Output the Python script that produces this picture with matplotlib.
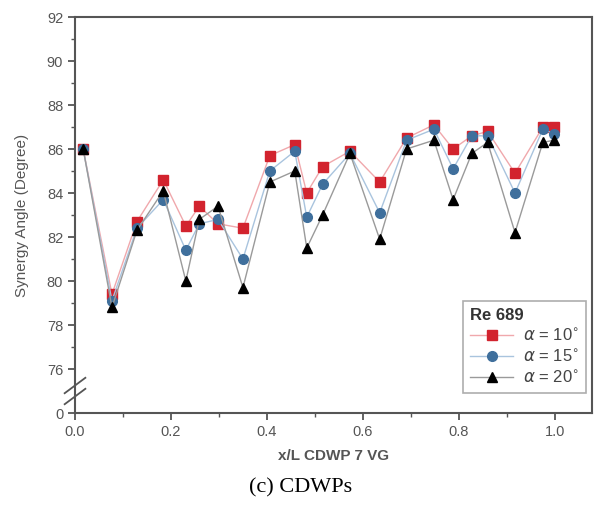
import matplotlib
matplotlib.use("Agg")
import matplotlib.pyplot as plt
import matplotlib.transforms as mtransforms
from matplotlib.ticker import MultipleLocator, FixedLocator

# positions along the plate
x_pos = [0.017, 0.077, 0.129, 0.184, 0.231, 0.259, 0.298, 0.350, 0.406, 0.458, 0.483,
         0.516, 0.573, 0.635, 0.691, 0.748, 0.788, 0.827, 0.860, 0.917, 0.975, 0.998]

# synergy angle for each inclination
angle_10 = [86.0, 79.4, 82.7, 84.6, 82.5, 83.4, 82.6, 82.4, 85.7, 86.2, 84.0,
            85.2, 85.9, 84.5, 86.5, 87.1, 86.0, 86.6, 86.8, 84.9, 87.0, 87.0]
angle_15 = [86.0, 79.1, 82.4, 83.7, 81.4, 82.6, 82.8, 81.0, 85.0, 85.9, 82.9,
            84.4, 85.8, 83.1, 86.4, 86.9, 85.1, 86.6, 86.6, 84.0, 86.9, 86.7]
angle_20 = [86.0, 78.8, 82.3, 84.1, 80.0, 82.8, 83.4, 79.7, 84.5, 85.0, 81.5,
            83.0, 85.8, 81.9, 86.0, 86.4, 83.7, 85.8, 86.3, 82.2, 86.3, 86.4]

y_ticks = [74, 76, 78, 80, 82, 84, 86, 88, 90, 92]
y_tick_labels = ["0", "76", "78", "80", "82", "84", "86", "88", "90", "92"]
x_ticks = [0.0, 0.2, 0.4, 0.6, 0.8, 1.0]

plt.rcParams['font.family'] = ['Liberation Sans', 'DejaVu Sans']

fig = plt.figure(figsize=(6.02, 5.08), dpi=100)
ax = fig.add_axes([0.1246, 0.187, 0.8584, 0.7795])

txt_col = '#555555'
spine_col = '#555555'

l10, = ax.plot(x_pos, angle_10, color='#f0a8ac', lw=1.0, marker='s', ms=6.5,
               mfc='#d2232e', mec='#d2232e', label=r'$\alpha$ = 10$^{\circ}$', zorder=2)
l15, = ax.plot(x_pos, angle_15, color='#a9c4de', lw=1.0, marker='o', ms=7,
               mfc='#3f6f9c', mec='#3f6f9c', label=r'$\alpha$ = 15$^{\circ}$', zorder=3)
l20, = ax.plot(x_pos, angle_20, color='#9a9a9a', lw=1.0, marker='^', ms=7.5,
               mfc='black', mec='black', label=r'$\alpha$ = 20$^{\circ}$', zorder=4)

ax.set_xlim(0.0, 1.077)
ax.set_ylim(74, 92)
ax.set_xticks(x_ticks)
ax.set_xticklabels([f"{v:.1f}" for v in x_ticks])
ax.xaxis.set_minor_locator(MultipleLocator(0.1))
ax.yaxis.set_major_locator(FixedLocator(y_ticks))
ax.set_yticklabels(y_tick_labels)
ax.yaxis.set_minor_locator(FixedLocator([77, 79, 81, 83, 85, 87, 89, 91]))

for s in ax.spines.values():
    s.set_color(spine_col)
    s.set_linewidth(1.5)
ax.tick_params(which='major', direction='out', length=5, width=1.3,
               colors=spine_col, labelcolor=txt_col, labelsize=10.5)
ax.tick_params(which='minor', direction='out', length=3, width=1.0, colors=spine_col)

ax.set_xlabel("x/L CDWP 7 VG", fontsize=11, color=txt_col, fontweight='bold', labelpad=7)
ax.set_ylabel("Synergy Angle (Degree)", fontsize=11, color=txt_col, labelpad=13)

# axis break marks on the y spine
trans = mtransforms.blended_transform_factory(ax.transAxes, ax.transData)
for dy in (-0.25, 0.25):
    ax.plot([-0.02, 0.02], [75.0 + dy - 0.35, 75.0 + dy + 0.35], transform=trans,
            color=spine_col, lw=1.3, clip_on=False, zorder=6)

leg = ax.legend([l10, l15, l20], [l10.get_label(), l15.get_label(), l20.get_label()],
                title="Re 689", loc='lower right',
                bbox_to_anchor=(1.005, 0.03), fontsize=12, title_fontsize=12,
                frameon=True, fancybox=False, handlelength=2.6, borderpad=0.4,
                labelspacing=0.25, handletextpad=0.6)
leg._legend_box.align = "left"
leg.get_frame().set_edgecolor('#999999')
leg.get_frame().set_linewidth(1.2)
leg.get_title().set_color('#333333')
leg.get_title().set_fontweight('bold')
for t in leg.get_texts():
    t.set_color('#444444')

fig.text(0.5, 0.04, "(c) CDWPs", ha='center', va='center', fontsize=16,
         family=['Liberation Serif', 'DejaVu Serif'], color='black')

fig.savefig("out.png", dpi=100)
